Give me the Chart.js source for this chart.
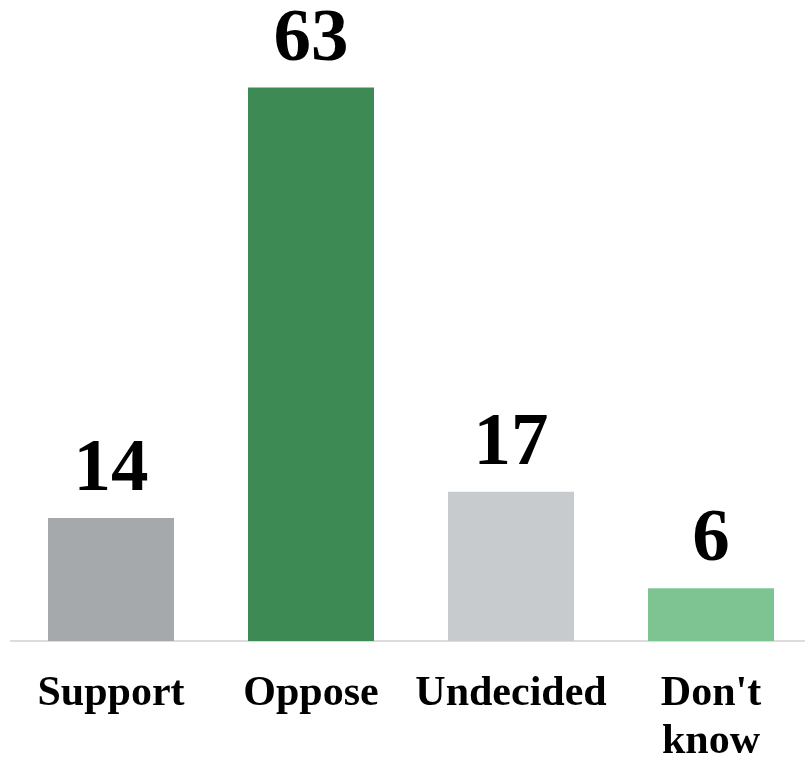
<!DOCTYPE html>
<html>
<head>
<meta charset="utf-8">
<script src="https://cdn.jsdelivr.net/npm/chart.js@4"></script>
<style>
  html, body { margin: 0; padding: 0; background: #fff; overflow: hidden; }
  .wrap { width: 811px; height: 760px; }
</style>
</head>
<body>
<div class="wrap"><canvas id="opinion"></canvas></div>
<script>
// data
const categories = ['Support', 'Oppose', 'Undecided', ["Don't", 'know']];
const shares = [14, 63, 17, 6];
const barColors = ['#a5a9ac', '#3e8a55', '#c8cbcd', '#7ec492'];

// value labels over the bars
const valueLabels = {
  id: 'valueLabels',
  afterDatasetsDraw(chart) {
    const ctx = chart.ctx;
    const meta = chart.getDatasetMeta(0);
    ctx.save();
    ctx.font = 'bold 75px "Liberation Serif", "Times New Roman", serif';
    ctx.fillStyle = '#000';
    ctx.textAlign = 'center';
    ctx.textBaseline = 'alphabetic';
    meta.data.forEach(function(bar, i) {
      ctx.fillText(String(shares[i]), bar.x, bar.y - 28);
    });
    ctx.restore();
  }
};

const ctx = document.getElementById('opinion').getContext('2d');
new Chart(ctx, {
  type: 'bar',
  data: {
    labels: categories,
    datasets: [{
      data: shares,
      backgroundColor: barColors,
      borderWidth: 0,
      barPercentage: 0.63,
      categoryPercentage: 1
    }]
  },
  options: {
    responsive: true,
    maintainAspectRatio: false,
    animation: false,
    layout: {
      padding: { left: 11, right: 0, top: 26, bottom: 0 }
    },
    plugins: {
      legend: { display: false },
      title: { display: false },
      tooltip: { enabled: false }
    },
    scales: {
      y: {
        display: false,
        beginAtZero: true,
        min: 0,
        max: 70
      },
      x: {
        grid: { display: false, drawTicks: false },
        border: { display: true, color: '#dcdcdc', width: 2 },
        afterFit: function(scale) {
          scale.height = 119; // keep the baseline where the reference has it
        },
        ticks: {
          color: '#000',
          padding: 29,
          maxRotation: 0,
          autoSkip: false,
          font: { family: '"Liberation Serif", "Times New Roman", serif', size: 42, weight: 'bold', lineHeight: 1.14 }
        }
      }
    }
  },
  plugins: [valueLabels]
});
</script>
</body>
</html>
